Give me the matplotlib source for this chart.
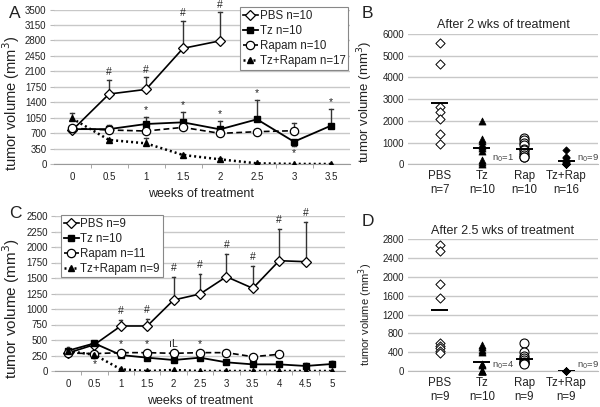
import numpy as np
import matplotlib
matplotlib.use("Agg")
import matplotlib.pyplot as plt

plt.rcParams['font.family'] = ['Liberation Sans', 'DejaVu Sans']

nan = np.nan
# ---------------- Panel A data ----------------
weeks_A = [0, 0.5, 1, 1.5, 2, 2.5, 3, 3.5]
A_pbs = [760, 1585, 1690, 2620, 2790, nan, nan, nan]
A_pbs_err = [0, 318, 272, 626, 645, nan, nan, nan]
A_tz = [790, 790, 906, 944, 785, 1012, 505, 868]
A_tz_err_up = [30, 90, 165, 240, 196, 438, 0, 370]
A_tz_err_dn = [0, 0, 0, 0, 0, 0, 100, 0]
A_rap = [810, 770, 747, 830, 694, 732, 754, nan]
A_rap_err = [30, 40, 30, 40, 30, 30, 180, nan]
A_combo = [1034, 545, 468, 204, 106, 15, 2, 0]
A_combo_err = [115, 30, 112, 30, 20, 10, 8, 8]
A_labels = ["PBS n=10", "Tz n=10", "Rapam n=10", "Tz+Rapam n=17"]
A_pbs_marks = [1, 2, 3, 4]          # '#' above PBS
A_tz_marks_up = [2, 3, 4, 5, 7]     # '*' above Tz
A_tz_marks_dn = [6]                 # '*' below Tz

# ---------------- Panel C data ----------------
weeks_C = [0, 0.5, 1, 1.5, 2, 2.5, 3, 3.5, 4, 4.5, 5]
C_pbs = [290, 425, 726, 726, 1145, 1242, 1521, 1334, 1779, 1763, nan]
C_pbs_err = [30, 40, 90, 113, 376, 323, 366, 360, 511, 645, nan]
C_tz = [328, 446, 258, 215, 177, 215, 140, 107, 107, 81, 113]
C_tz_err = [20, 30, 20, 20, 20, 20, 20, 20, 20, 50, 50]
C_rap = [290, 280, 296, 296, 285, 296, 296, 231, 269, nan, nan]
C_rap_err = [40, 20, 20, 20, 20, 20, 40, 20, 30, nan, nan]
C_combo = [320, 262, 27, 0, 16, 0, 0, 0, 0, 0, 0]
C_combo_err = [60, 20, 10, 0, 5, 0, 0, 0, 0, 0, 0]
C_labels = ["PBS n=9", "Tz n=10", "Rapam n=11", "Tz+Rapam n=9"]
C_pbs_marks = [2, 3, 4, 5, 6, 7, 8, 9]
C_rap_marks = [(2, "*"), (3, "*"), (4, "ıL"), (5, "*")]
C_combo_marks_dn = [1]

# ---------------- Panel B data ----------------
groups = ["PBS", "Tz", "Rap", "Tz+Rap"]
B_n = ["n=7", "n=10", "n=10", "n=16"]
B_pbs = [5570, 4600, 2620, 2420, 2070, 1380, 940]
B_tz = [2010, 1170, 1050, 950, 840, 740, 600, 220, 120, 0]
B_rap = [1200, 1100, 1000, 880, 700, 650, 500, 450, 350, 320]
B_combo = [650, 320, 280, 130, 100, 50, 30, 0, 0, 0, 0, 0, 0, 0, 0, 0]
B_means = [2820, 760, 690, 140]
B_zero = ["n$_0$=1", "n$_0$=9"]

# ---------------- Panel D data ----------------
D_n = ["n=9", "n=10", "n=9", "n=9"]
D_pbs = [2680, 2560, 1860, 1550, 600, 540, 480, 430, 380]
D_tz = [550, 520, 450, 400, 150, 130, 0, 0, 0, 0]
D_rap = [600, 400, 320, 280, 240, 200, 180, 160, 150]
D_combo = [0, 0, 0, 0, 0, 0, 0, 0, 0]
D_means = [1290, 200, 260, 0]
D_zero = ["n$_0$=4", "n$_0$=9"]

W, H = 600, 407
fig = plt.figure(figsize=(6, 4.07), dpi=100)

def ax_px(l, t, r, b):
    return fig.add_axes([l / W, (H - b) / H, (r - l) / W, (b - t) / H])

GRID = '#c8c8c8'
TXT = '#222222'

styles = {
    'pbs': dict(color='black', lw=1.2, ls='-', marker='D', ms=4.6, mfc='white', mec='black', mew=0.9),
    'tz': dict(color='black', lw=1.3, ls='-', marker='s', ms=5.0, mfc='black', mec='black'),
    'rap': dict(color='black', lw=1.2, ls=(0, (3.5, 2)), marker='o', ms=6.0, mfc='white', mec='black', mew=0.9),
    'combo': dict(color='black', lw=1.8, ls=(0, (0.8, 1.2)), marker='^', ms=5.0, mfc='black', mec='black'),
}

def line_panel(ax, weeks, ymax, ystep, series, labels, legend_anchor):
    idx = np.arange(len(weeks))
    ax.set_xlim(-0.5, len(weeks) - 0.5)
    ax.set_ylim(0, ymax)
    ax.set_yticks(np.arange(0, ymax + 1, ystep))
    ax.yaxis.grid(True, color=GRID, lw=1.0)
    ax.set_axisbelow(True)
    for s in ['top', 'right', 'left']:
        ax.spines[s].set_visible(False)
    ax.spines['bottom'].set_color('#999999')
    ax.set_xticks(idx)
    ax.set_xticklabels([('%g' % w) for w in weeks], fontsize=7, color=TXT)
    ax.set_xticks(idx[:-1] + 0.5, minor=True)
    ax.tick_params(axis='x', which='major', length=0, pad=6)
    ax.tick_params(axis='x', which='minor', length=3, color='#999999')
    ax.tick_params(axis='y', length=3, color='#bbbbbb', labelsize=7, labelcolor=TXT, pad=2)
    ax.set_xlabel("weeks of treatment", fontsize=9, color=TXT, labelpad=4)
    handles = []
    for key, vals, eup, edn in series:
        v = np.array(vals, float)
        st = styles[key]
        eu = np.array(eup, float)
        ed = np.array(edn, float) if edn is not None else np.zeros_like(v)
        for i in range(len(v)):
            if np.isnan(v[i]):
                continue
            if eu[i] > 0:
                ax.plot([i, i], [v[i], v[i] + eu[i]], color='#333333', lw=1.0, zorder=2)
                ax.plot([i - 0.05, i + 0.05], [v[i] + eu[i]] * 2, color='#333333', lw=1.0, zorder=2)
            if ed[i] > 0:
                ax.plot([i, i], [v[i], v[i] - ed[i]], color='#333333', lw=1.0, zorder=2)
                ax.plot([i - 0.05, i + 0.05], [v[i] - ed[i]] * 2, color='#333333', lw=1.0, zorder=2)
        h, = ax.plot(idx, v, zorder=3, **st)
        handles.append(h)
    leg = ax.legend(handles, labels, loc='upper left', bbox_to_anchor=legend_anchor,
                    fontsize=8.3, frameon=True, fancybox=False, edgecolor='#888888',
                    borderpad=0.25, labelspacing=0.25, handlelength=1.3, handletextpad=0.15,
                    borderaxespad=0, framealpha=1)
    leg.get_frame().set_linewidth(0.8)
    for t in leg.get_texts():
        t.set_color(TXT)
    return idx

def annot(ax, x, y, s, dy):
    ax.annotate(s, (x, y), xytext=(0, dy), textcoords='offset points', ha='center',
                va='center', fontsize=7.5, color=TXT, zorder=5, annotation_clip=False)

# ---------------- Panel A ----------------
axA = ax_px(53.5, 9.5, 349.5, 164)
line_panel(axA, weeks_A, 3500, 350,
           [('pbs', A_pbs, A_pbs_err, None), ('tz', A_tz, A_tz_err_up, A_tz_err_dn),
            ('rap', A_rap, A_rap_err, None), ('combo', A_combo, A_combo_err, None)],
           A_labels, (0.63, 1.015))
axA.set_ylabel("tumor volume (mm$^3$)", fontsize=10.5, color=TXT)
axA.yaxis.set_label_coords(-0.108, 0.39)
for i in A_pbs_marks:
    annot(axA, i, A_pbs[i] + A_pbs_err[i], "#", 5.5)
for i in A_tz_marks_up:
    annot(axA, i, A_tz[i] + A_tz_err_up[i], "*", 5)
for i in A_tz_marks_dn:
    annot(axA, i, A_tz[i] - A_tz_err_dn[i], "*", -5)

# ---------------- Panel C ----------------
axC = ax_px(54.8, 216, 345.2, 371)
line_panel(axC, weeks_C, 2500, 250,
           [('pbs', C_pbs, C_pbs_err, None), ('tz', C_tz, C_tz_err, None),
            ('rap', C_rap, C_rap_err, None), ('combo', C_combo, C_combo_err, None)],
           C_labels, (0.021, 1.006))
axC.set_ylabel("tumor volume (mm$^3$)", fontsize=11, color=TXT)
axC.yaxis.set_label_coords(-0.113, 0.40)
for i in C_pbs_marks:
    annot(axC, i, C_pbs[i] + C_pbs_err[i], "#", 6.5)
for i, s in C_rap_marks:
    annot(axC, i, C_rap[i] + C_rap_err[i], s, 5.5)
for i in C_combo_marks_dn:
    annot(axC, i, C_combo[i], "*", -7)

# ---------------- Scatter panels ----------------
def scatter_panel(ax, ymax, ystep, data, means, ns, zeros, title, ylabsize, ylab_y):
    ax.set_xlim(0.25, 4.75)
    ax.set_ylim(0, ymax)
    ax.set_yticks(np.arange(0, ymax + 1, ystep))
    ax.yaxis.grid(True, color=GRID, lw=1.0)
    ax.set_axisbelow(True)
    for s in ['top', 'right', 'left']:
        ax.spines[s].set_visible(False)
    ax.spines['bottom'].set_color('#bbbbbb')
    ax.tick_params(axis='y', length=0, labelsize=7, labelcolor=TXT, pad=3)
    pos = np.arange(1, 5)
    ax.set_xticks(pos)
    ax.set_xticklabels([g + "\n" + n for g, n in zip(groups, ns)], fontsize=8.3,
                       color=TXT, linespacing=1.25)
    ax.tick_params(axis='x', length=0, pad=4)
    mk = [dict(marker='D', s=22, facecolors='white', edgecolors='black', linewidths=0.7),
          dict(marker='^', s=26, facecolors='black', edgecolors='black', linewidths=0.5),
          dict(marker='o', s=42, facecolors='white', edgecolors='black', linewidths=0.8),
          dict(marker='D', s=14, facecolors='black', edgecolors='black', linewidths=0.5)]
    for p, vals, m in zip(pos, data, mk):
        ax.scatter(np.full(len(vals), p), vals, zorder=3, clip_on=False, **m)
    ax.hlines(means, pos - 0.2, pos + 0.2, colors='black', lw=1.4, zorder=4)
    ax.text(2.25, 0, zeros[0], fontsize=6.8, color='#444444', va='bottom', ha='left')
    ax.text(4.25, 0, zeros[1], fontsize=6.8, color='#444444', va='bottom', ha='left')
    ax.set_title(title, fontsize=9, color=TXT, pad=4)
    ax.set_ylabel("tumor volume (mm$^3$)", fontsize=ylabsize, color=TXT)
    ax.yaxis.set_label_coords(-0.172, ylab_y)

axB = ax_px(408, 34, 598, 164.3)
scatter_panel(axB, 6000, 1000, [B_pbs, B_tz, B_rap, B_combo], B_means, B_n, B_zero,
              "After 2 wks of treatment", 9.5, 0.48)
axD = ax_px(408, 239.3, 598, 371)
scatter_panel(axD, 2800, 400, [D_pbs, D_tz, D_rap, D_combo], D_means, D_n, D_zero,
              "After 2.5 wks of treatment", 8, 0.43)

for letter, x, y in [("A", 9, 13.5), ("B", 362, 13.5), ("C", 9, 213.5), ("D", 362, 221.5)]:
    fig.text(x / W, (H - y) / H, letter, fontsize=12.5, color=TXT, va='center', ha='left')

fig.savefig("out.png", dpi=100)
